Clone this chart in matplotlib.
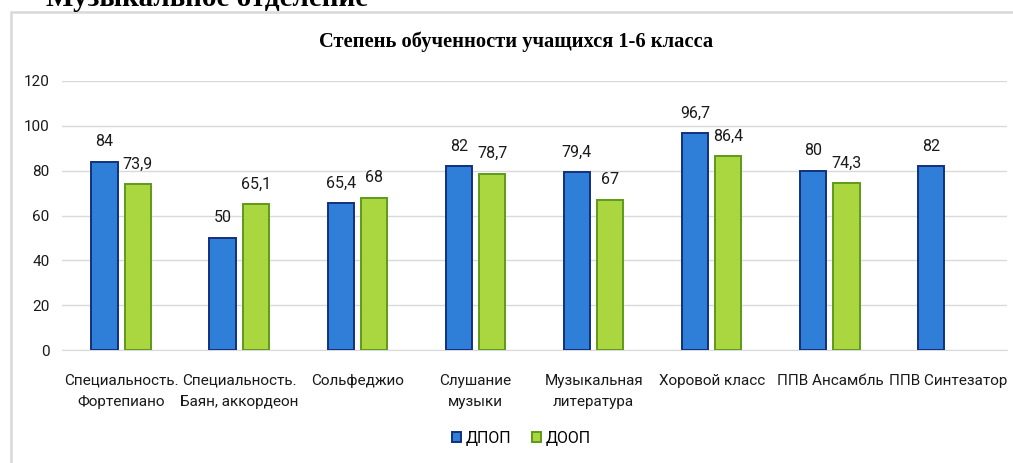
import numpy as np
import matplotlib
matplotlib.use("Agg")
import matplotlib.pyplot as plt
from matplotlib.patches import Rectangle

categories = [
    "Специальность.\nФортепиано",
    "Специальность.\nБаян, аккордеон",
    "Сольфеджио",
    "Слушание\nмузыки",
    "Музыкальная\nлитература",
    "Хоровой класс",
    "ППВ Ансамбль",
    "ППВ Синтезатор",
]
dpop = [84, 50, 65.4, 82, 79.4, 96.7, 80, 82]
doop = [73.9, 65.1, 68, 78.7, 67, 86.4, 74.3, None]
series_names = ["ДПОП", "ДООП"]

plt.rcParams["font.family"] = ["Roboto", "DejaVu Sans"]

fig = plt.figure(figsize=(10.13, 4.63), dpi=100)
ax = fig.add_axes([62 / 1013, 113 / 463, 945 / 1013, 269 / 463])

x = np.arange(len(categories))
w = 0.222
off = 0.141

blue_face, blue_edge = "#2f7fd8", "#12307f"
green_face, green_edge = "#aad63f", "#5e9a18"

ax.bar(x - off, dpop, w, color=blue_face, edgecolor=blue_edge, linewidth=1.4,
       label=series_names[0], zorder=3)
gx = [i for i, v in zip(x, doop) if v is not None]
gv = [v for v in doop if v is not None]
ax.bar(np.array(gx) + off, gv, w, color=green_face, edgecolor=green_edge,
       linewidth=1.4, label=series_names[1], zorder=3)


def fmt(v):
    return ("%g" % v).replace(".", ",")


for i, v in zip(x, dpop):
    ax.annotate(fmt(v), (i - off, v), xytext=(0, 9), textcoords="offset points",
                ha="center", va="bottom", fontsize=11.5, color="#1a1a1a")
for i, v in zip(gx, gv):
    ax.annotate(fmt(v), (i + off, v), xytext=(0, 9), textcoords="offset points",
                ha="center", va="bottom", fontsize=11.5, color="#1a1a1a")

ax.set_xlim(-0.5, len(categories) - 0.5)
ax.set_ylim(0, 120)
ax.set_yticks(range(0, 121, 20))
ax.yaxis.grid(True, color="#d9d9d9", linewidth=1, zorder=0)
ax.set_axisbelow(True)
for s in ["top", "right", "left"]:
    ax.spines[s].set_visible(False)
ax.spines["bottom"].set_color("#d9d9d9")
ax.tick_params(axis="both", length=0, labelsize=11, colors="#1a1a1a")
ax.tick_params(axis="y", pad=9)
ax.tick_params(axis="x", pad=17)
ax.set_xticks(x)
ax.set_xticklabels(categories, linespacing=1.7)

fig.text(516 / 1013, 1 - 42 / 463, "Степень обученности учащихся 1-6 класса",
         ha="center", va="center", fontsize=14.8, fontweight="bold",
         family=["Liberation Serif", "DejaVu Serif"])
fig.text(46 / 1013, 1 - 6 / 463, "Музыкальное отделение", ha="left",
         va="baseline", fontsize=21, fontweight="bold",
         family=["Liberation Serif", "DejaVu Serif"])

fig.patches.append(Rectangle((11 / 1013, -0.1), 1.2, (463 - 12) / 463 + 0.1,
                             transform=fig.transFigure, fill=False,
                             edgecolor="#d9d9d9", linewidth=1.8))

fig.legend(loc="center", bbox_to_anchor=(521 / 1013, 1 - 438 / 463), ncol=2,
           frameon=False, fontsize=11.5, handlelength=0.6, handleheight=0.6,
           handletextpad=0.25, columnspacing=1.3)

fig.savefig("out.png", dpi=100)
